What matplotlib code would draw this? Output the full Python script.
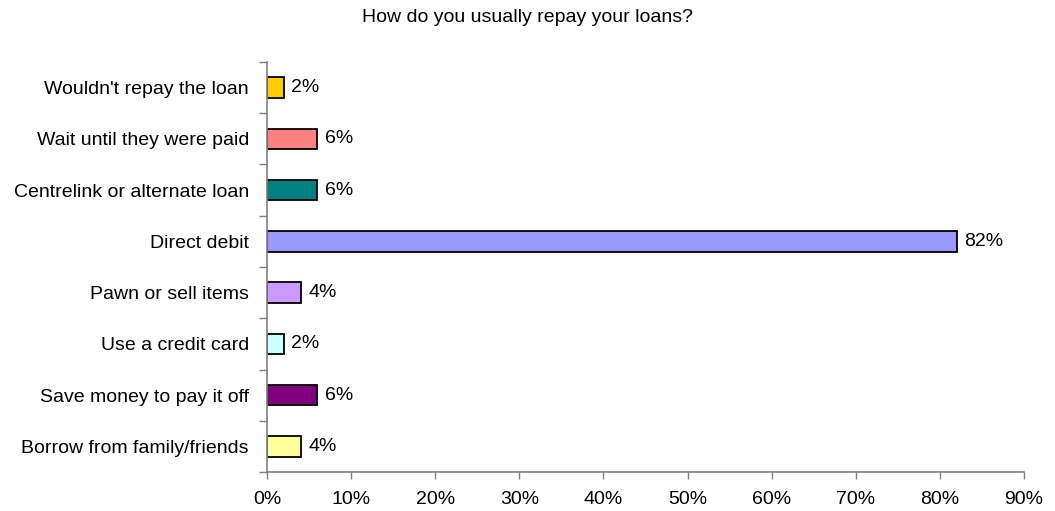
import matplotlib
matplotlib.use("Agg")
import matplotlib.pyplot as plt
import numpy as np
from matplotlib.ticker import FixedLocator, FuncFormatter

plt.rcParams['font.family'] = ['Liberation Sans', 'DejaVu Sans']

# bottom to top
categories = ["Borrow from family/friends", "Save money to pay it off", "Use a credit card",
              "Pawn or sell items", "Direct debit", "Centrelink or alternate loan",
              "Wait until they were paid", "Wouldn't repay the loan"]
values = [4, 6, 2, 4, 82, 6, 6, 2]
colors = ["#FFFF99", "#800080", "#CCFFFF", "#CC99FF", "#9999FF", "#008080", "#FF8080", "#FFCC00"]
x_ticks = [0, 10, 20, 30, 40, 50, 60, 70, 80, 90]

fig = plt.figure(figsize=(10.55, 5.11), dpi=100)
ax = fig.add_axes((0.2531, 0.0763, 0.7175, 0.8024))

pos = np.arange(len(categories))
ax.barh(pos, values, height=0.4, color=colors, edgecolor="black", linewidth=1.3)
for p, v in zip(pos, values):
    ax.text(v + 0.9, p, f"{v}%", va="center", ha="left", fontsize=14)

ax.set_xlim(0, 90)
ax.set_ylim(-0.5, len(categories) - 0.5)
ax.xaxis.set_major_locator(FixedLocator(x_ticks))
ax.xaxis.set_major_formatter(FuncFormatter(lambda x, _: f"{x:.0f}%"))

# labels at bar centres, tick marks at category boundaries
ax.set_yticks(pos)
ax.set_yticklabels(categories, fontsize=14)
ax.set_yticks(np.arange(len(categories) + 1) - 0.5, minor=True)
ax.tick_params(axis="y", which="major", length=0, pad=13)
ax.tick_params(axis="y", which="minor", length=6, width=1, color="#808080", direction="out")
ax.tick_params(axis="x", length=5, width=1, color="#808080", labelsize=14, pad=9)

for side in ("top", "right"):
    ax.spines[side].set_visible(False)
for side in ("left", "bottom"):
    ax.spines[side].set_color("#808080")
    ax.spines[side].set_linewidth(1.2)

fig.text(0.5, 0.965, "How do you usually repay your loans?", ha="center", va="center", fontsize=14)

fig.savefig("out.png", dpi=100)
